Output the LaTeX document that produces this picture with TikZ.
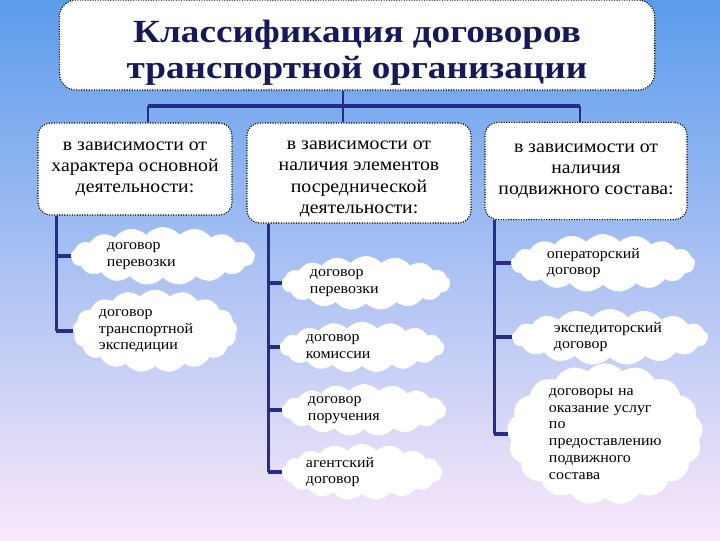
\documentclass[tikz,border=0pt]{standalone}
\usepackage{fontspec}
\setmainfont{Liberation Serif}
\newfontfamily\widefont[FakeStretch=1.15]{Liberation Serif}
\newfontfamily\boxfont[FakeStretch=1.08]{Liberation Serif}
\usetikzlibrary{shapes.symbols,positioning}

\definecolor{linenavy}{RGB}{38,44,138}
\definecolor{titlenavy}{RGB}{22,24,92}
\definecolor{skytop}{RGB}{92,156,236}
\definecolor{skymid}{RGB}{178,204,242}
\definecolor{skybot}{RGB}{250,232,250}

\tikzset{
  headbox/.style={draw=black, densely dotted, thick, rounded corners=12pt, fill=white,
    align=center, text=titlenavy, font=\widefont\bfseries\fontsize{23}{25.5}\selectfont},
  groupbox/.style={draw=black, densely dotted, thick, rounded corners=9pt, fill=white,
    align=center, font=\boxfont\fontsize{13}{15}\selectfont},
  cloudbox/.style={cloud, cloud puffs=17, cloud puff arc=100, cloud ignores aspect,
    fill=white, draw=white, align=left, text width=2.8cm, inner sep=0pt,
    font=\boxfont\fontsize{10.5}{12}\selectfont},
  spine/.style={draw=linenavy, line width=2pt},
  bar/.style={draw=linenavy, line width=3.5pt},
  tick/.style={draw=linenavy, line width=3pt}
}

\begin{document}
\begin{tikzpicture}[x=0.025cm, y=-0.025cm]
  % Background
  \shade[top color=skytop, middle color=skymid, bottom color=skybot] (0,0) rectangle (720,540);
  \useasboundingbox (0,0) rectangle (720,540);

  % Title and the three groups
  \node[headbox, minimum width=14.88cm, minimum height=2.15cm] (title) at (357,45)
    {\rule{0pt}{27pt}Классификация договоров\\транспортной  организации};
  \node[groupbox, minimum width=4.85cm, minimum height=2.3cm] (box1) at (135,169)
    {в зависимости от\\характера основной\\деятельности:};
  \node[groupbox, minimum width=5.6cm, minimum height=2.5cm] (box2) at (359,173)
    {\rule{0pt}{14.6pt}в зависимости от\\наличия элементов\\посреднической\\деятельности:};
  \node[groupbox, minimum width=5.05cm, minimum height=2.43cm] (box3) at (586,171)
    {в зависимости от\\наличия\\подвижного состава:};

  % Clouds
  \node[cloudbox, minimum width=4.58cm, minimum height=1.43cm] (c1a) at (163,256) {договор\\перевозки};
  \node[cloudbox, minimum width=4.1cm, minimum height=2.05cm] (c1b) at (155,331) {договор\\транспортной\\экспедиции};
  \node[cloudbox, minimum width=4.2cm, minimum height=1.33cm] (c2a) at (366,283) {договор\\перевозки};
  \node[cloudbox, minimum width=4.1cm, minimum height=1.25cm] (c2b) at (362,347) {договор\\комиссии};
  \node[cloudbox, minimum width=4.1cm, minimum height=1.25cm] (c2c) at (364,410) {договор\\поручения};
  \node[cloudbox, minimum width=4.0cm, minimum height=1.25cm] (c2d) at (362,472) {агентский\\договор};
  \node[cloudbox, minimum width=4.58cm, minimum height=1.43cm] (c3a) at (603,263) {операторский\\договор};
  \node[cloudbox, minimum width=4.88cm, minimum height=1.33cm] (c3b) at (610,337) {экспедиторский\\договор};
  \node[cloudbox, minimum width=4.88cm, minimum height=3.33cm] (c3c) at (605,434)
    {договоры на\\оказание услуг\\по\\предоставлению\\подвижного\\состава};

  % Connectors from the title
  \coordinate (hub) at (343,106);
  \coordinate (barL) at (148,106);
  \coordinate (barR) at (580,106);
  \draw[spine] (hub |- title.south) -- (hub);
  \draw[bar] (barL) -- (barR);
  \draw[spine] (barL) -- (barL |- box1.north);
  \draw[spine] (hub) -- (hub |- box2.north);
  \draw[spine] (barR) -- (barR |- box3.north);

  % Spines down to the clouds
  \coordinate (s1) at ([xshift=0.475cm]box1.south west);
  \coordinate (s2) at ([xshift=0.55cm]box2.south west);
  \coordinate (s3) at ([xshift=0.25cm]box3.south west);
  \draw[spine] (s1) -- (s1 |- c1b.west);
  \draw[spine] (s2) -- (s2 |- c2d.west);
  \draw[spine] (s3) -- (s3 |- c3c.west);
  \foreach \c in {c1a,c1b}
    \draw[tick] (s1 |- \c.west) -- (\c.west);
  \foreach \c in {c2a,c2b,c2c,c2d}
    \draw[tick] (s2 |- \c.west) -- (\c.west);
  \foreach \c in {c3a,c3b,c3c}
    \draw[tick] (s3 |- \c.west) -- (\c.west);
\end{tikzpicture}
\end{document}
